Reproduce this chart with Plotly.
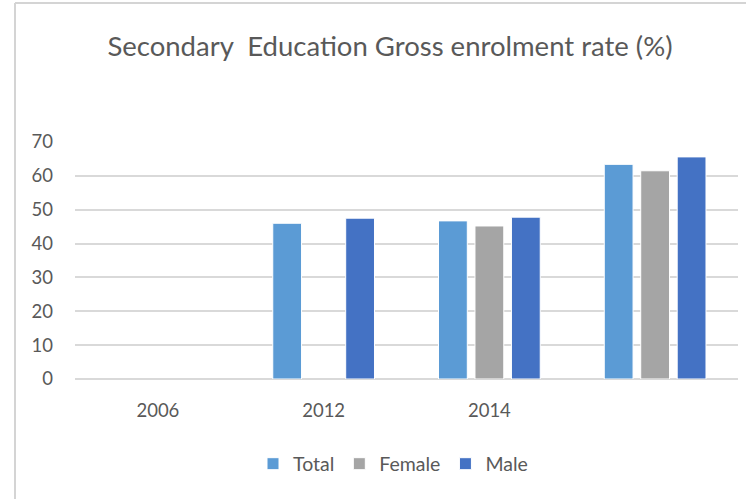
import plotly.graph_objects as go

# Gross enrolment rate in secondary education (%)
years = ["2006", "2012", "2014", ""]
total = [None, 46.0, 46.7, 63.4]
female = [None, None, 45.2, 61.5]
male = [None, 47.5, 47.8, 65.6]

series = [
    ("Total", total, "#5B9BD5"),
    ("Female", female, "#A5A5A5"),
    ("Male", male, "#4472C4"),
]

W, H = 746, 499
L, R, T, B = 75, 8, 142, 120
FONT = "Lato, 'Open Sans', sans-serif"
TEXT = "#595959"
GRID = "#D9D9D9"

positions = list(range(len(years)))

fig = go.Figure()
for name, vals, color in series:
    fig.add_trace(go.Bar(
        x=positions, y=vals, name=name,
        marker=dict(color=color, line=dict(color="white", width=1)),
    ))

# frame lines along the top and left of the chart area
pw, ph = W - L - R, H - T - B
def px_x(v):
    return (v - L) / pw
def px_y(v):
    return (H - B - v) / ph

fig.add_shape(type="line", xref="paper", yref="paper",
              x0=px_x(15), x1=px_x(15), y0=px_y(3), y1=px_y(H + 5),
              line=dict(color="#D4D4D4", width=2))
fig.add_shape(type="line", xref="paper", yref="paper",
              x0=px_x(15), x1=px_x(W + 5), y0=px_y(3), y1=px_y(3),
              line=dict(color="#D4D4D4", width=2))

fig.update_layout(
    width=W, height=H,
    margin=dict(l=L, r=R, t=T, b=B),
    paper_bgcolor="white", plot_bgcolor="white",
    barmode="group", bargap=0.34, bargroupgap=0.21,
    font=dict(family=FONT, color=TEXT, size=18),
    title=dict(
        text="Secondary\u00a0\u00a0Education Gross enrolment rate (%)",
        x=390 / W, xanchor="center", xref="container",
        y=1 - 46 / H, yanchor="middle", yref="container",
        font=dict(family=FONT, size=27.5, color=TEXT),
    ),
    xaxis=dict(
        range=[-0.5, len(years) - 0.5],
        tickvals=positions, ticktext=years,
        showgrid=False, zeroline=False, showline=False,
        ticks="", ticklabelstandoff=18,
        tickfont=dict(size=18.5, color=TEXT),
    ),
    yaxis=dict(
        range=[0, 70], dtick=10,
        showgrid=True, gridcolor=GRID, gridwidth=1.5,
        zeroline=True, zerolinecolor=GRID, zerolinewidth=1.5,
        showline=False, ticks="", ticklabelstandoff=21,
        tickfont=dict(size=18.5, color=TEXT),
    ),
    legend=dict(
        orientation="h", x=px_x(393), xanchor="center",
        y=px_y(464), yanchor="middle",
        font=dict(size=19.5, color=TEXT),
        itemclick=False, itemdoubleclick=False,
    ),
    showlegend=True,
)

fig.write_html("out.html")
